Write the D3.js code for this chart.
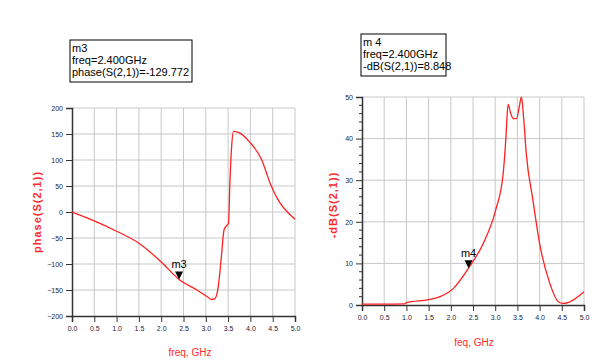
<!DOCTYPE html>
<html lang="en">
<head>
  <meta charset="utf-8">
  <title>S21 phase and dB</title>
  <script src="https://d3js.org/d3.v7.min.js"></script>
  <style>
    body { margin: 0; background: #fff; }
    svg { display: block; }
    .tick-label { font-family: "Liberation Sans Narrow", "Liberation Sans", Arial, sans-serif; font-size: 7px; fill: #1a1a3a; }
    .axis-title { font-family: "Liberation Sans", Arial, sans-serif; fill: #ff2a2a; }
    .box-text { font-family: "Liberation Sans Narrow", "Liberation Sans", Arial, sans-serif; font-size: 11px; fill: #000; }
  </style>
</head>
<body>
<svg id="chart" width="609" height="364"></svg>
<script>
// phase(S(2,1)) vs freq, GHz
var phaseFreq = [0, 0.5, 1.0, 1.5, 2.0, 2.4, 2.8, 3.05, 3.12, 3.2, 3.28, 3.35, 3.41, 3.47, 3.51, 3.54, 3.58, 3.62, 3.73, 3.99, 4.25, 4.44, 4.66, 4.85, 5.0];
var phaseVals = [0, -17, -37, -60, -96, -129.8, -150, -164, -168, -167, -143, -85, -34, -26, -21, 56, 127, 155, 153, 134, 101, 56, 18, -2, -14];

// -dB(S(2,1)) vs freq, GHz
var dbFreq = [0, 0.5, 0.95, 1.0, 1.5, 1.76, 2.06, 2.4, 2.73, 3.01, 3.18, 3.24, 3.29, 3.35, 3.41, 3.48, 3.54, 3.59, 3.64, 3.7, 3.85, 4.0, 4.23, 4.42, 4.53, 4.64, 5.0];
var dbVals = [0.2, 0.2, 0.25, 0.55, 1.3, 2.0, 4.0, 8.85, 14.8, 22.8, 31.6, 40, 48.2, 46, 44.8, 44.8, 47.5, 50, 45, 36.4, 25.2, 14.8, 5.2, 0.8, 0.4, 0.6, 3.2];

var xTicks = [0, 0.5, 1.0, 1.5, 2.0, 2.5, 3.0, 3.5, 4.0, 4.5, 5.0];
var phaseTicks = [-200, -150, -100, -50, 0, 50, 100, 150, 200];
var dbTicks = [0, 10, 20, 30, 40, 50];

var markerFreq = 2.4;
var markerPhase = -129.772;
var markerDb = 8.848;

var svg = d3.select("#chart");

function drawPanel(opts) {
  var x = d3.scaleLinear().domain([0, 5]).range([opts.x0, opts.x1]);
  var y = d3.scaleLinear().domain(opts.yDomain).range([opts.y1, opts.y0]);
  var g = svg.append("g");

  // grid
  g.selectAll(".vgrid").data(xTicks.slice(1)).enter().append("line")
    .attr("x1", function(d) { return x(d); }).attr("x2", function(d) { return x(d); })
    .attr("y1", opts.y0).attr("y2", opts.y1)
    .attr("stroke", "#c8c8c8").attr("stroke-width", 1);
  g.selectAll(".hgrid").data(opts.yTicks.slice(1)).enter().append("line")
    .attr("x1", opts.x0).attr("x2", opts.x1)
    .attr("y1", function(d) { return y(d); }).attr("y2", function(d) { return y(d); })
    .attr("stroke", "#c8c8c8").attr("stroke-width", 1);

  // minor y ticks
  if (opts.minor) {
    var minor = d3.range(opts.yDomain[0], opts.yDomain[1] + 0.001, opts.minor)
      .filter(function(v) { return opts.yTicks.indexOf(v) < 0; });
    g.selectAll(".minor").data(minor).enter().append("line")
      .attr("x1", opts.x0 - 3).attr("x2", opts.x0)
      .attr("y1", function(d) { return y(d); }).attr("y2", function(d) { return y(d); })
      .attr("stroke", "#333").attr("stroke-width", 1);
  }

  // axes
  var xAxis = g.append("g").attr("transform", "translate(0," + opts.y1 + ")")
    .call(d3.axisBottom(x).tickValues(xTicks).tickSize(6).tickFormat(d3.format(".1f")));
  var yAxis = g.append("g").attr("transform", "translate(" + opts.x0 + ",0)")
    .call(d3.axisLeft(y).tickValues(opts.yTicks).tickSize(6).tickFormat(d3.format("d")));
  [xAxis, yAxis].forEach(function(a) {
    a.select(".domain").attr("stroke", "#333").attr("stroke-width", 1.5);
    a.selectAll(".tick line").attr("stroke", "#333").attr("stroke-width", 1);
    a.selectAll(".tick text").attr("class", "tick-label").attr("fill", null);
  });
  xAxis.selectAll(".tick text").attr("dy", "0.9em");

  // curve
  var line = d3.line()
    .x(function(d) { return x(d[0]); })
    .y(function(d) { return y(d[1]); })
    .curve(d3.curveMonotoneX);
  g.append("path")
    .datum(d3.zip(opts.freq, opts.vals))
    .attr("d", line)
    .attr("fill", "none")
    .attr("stroke", "#ff2020")
    .attr("stroke-width", 1.3);

  // marker
  var mx = x(markerFreq), my = y(opts.markerVal);
  g.append("path")
    .attr("d", "M" + (mx - 4) + "," + (my - 8) + "L" + (mx + 4) + "," + (my - 8) + "L" + mx + "," + my + "Z")
    .attr("fill", "#000");
  g.append("text").attr("class", "box-text")
    .attr("x", mx).attr("y", my - 11).attr("text-anchor", "middle")
    .text(opts.markerName);

  // axis titles
  svg.append("text").attr("class", "axis-title")
    .attr("x", opts.xTitle[0]).attr("y", opts.xTitle[1])
    .attr("text-anchor", "middle").attr("font-size", 10)
    .text(opts.xLabel);
  svg.append("text").attr("class", "axis-title")
    .attr("transform", "translate(" + opts.yTitle[0] + "," + opts.yTitle[1] + ") rotate(-90)")
    .attr("text-anchor", "middle").attr("font-size", 11).attr("font-weight", "bold")
    .attr("letter-spacing", 1)
    .text(opts.yLabel);

  // marker readout box
  var b = opts.box;
  svg.append("rect").attr("x", b[0]).attr("y", b[1]).attr("width", b[2]).attr("height", b[3])
    .attr("fill", "#fff").attr("stroke", "#000").attr("stroke-width", 1);
  opts.boxLines.forEach(function(t, i) {
    svg.append("text").attr("class", "box-text")
      .attr("x", b[0] + 2).attr("y", b[1] + 12 + i * 12)
      .text(t);
  });
}

drawPanel({
  x0: 72, x1: 295, y0: 108, y1: 316,
  yDomain: [-200, 200], yTicks: phaseTicks,
  freq: phaseFreq, vals: phaseVals,
  markerVal: markerPhase, markerName: "m3",
  xLabel: "freq, GHz", xTitle: [190, 356],
  yLabel: "phase(S(2,1))", yTitle: [41, 212],
  box: [70, 40, 122, 42],
  boxLines: ["m3", "freq=2.400GHz", "phase(S(2,1))=-129.772"]
});

drawPanel({
  x0: 362, x1: 584, y0: 97, y1: 305,
  yDomain: [0, 50], yTicks: dbTicks, minor: 2,
  freq: dbFreq, vals: dbVals,
  markerVal: markerDb, markerName: "m4",
  xLabel: "feq, GHz", xTitle: [474, 346],
  yLabel: "-dB(S(2,1))", yTitle: [337, 205],
  box: [361, 34, 85, 42],
  boxLines: ["m 4", "freq=2.400GHz", "-dB(S(2,1))=8.848"]
});
</script>
</body>
</html>
